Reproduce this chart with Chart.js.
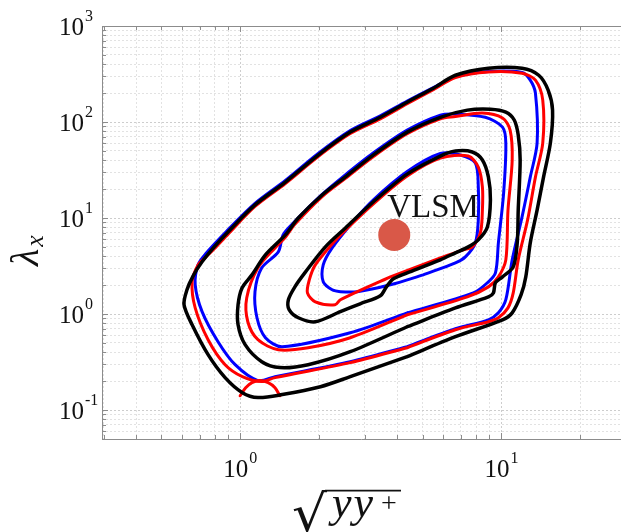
<!DOCTYPE html>
<html>
<head>
<meta charset="utf-8">
<script src="https://cdn.jsdelivr.net/npm/chart.js@4.4.1/dist/chart.umd.min.js"></script>
<style>
  html, body { margin: 0; padding: 0; background: #fff; overflow: hidden; }
  #wrap { width: 621px; height: 532px; }
  canvas { display: block; }
</style>
</head>
<body>
<div id="wrap"><canvas id="spectra" width="621" height="532"></canvas></div>
<script>
// contour levels of the premultiplied spectrum, [sqrt(y y+), lambda_x]
var outerBlack = [[4.36,0.360],[2.64,0.223],[2.03,0.175],[1.45,0.145],[1.17,0.135],[1.02,0.152],[0.876,0.218],[0.754,0.378],[0.655,0.774],[0.610,1.25],[0.626,1.79],[0.661,2.50],[0.715,3.50],[0.802,5.13],[0.899,7.17],[1.14,13.7],[1.49,23.7],[1.99,45.3],[2.64,78.5],[3.44,112],[4.36,161],[5.49,225],[6.67,307],[8.92,363],[12.0,363],[13.9,307],[15.1,215],[15.7,133],[15.4,60.3],[14.5,26.7],[13.7,12.1],[12.9,5.51],[12.4,2.44],[11.9,1.59],[11.0,1.03],[10.1,0.872],[6.67,0.581],[4.36,0.360]];
var outerRed = [[4.36,0.446],[2.64,0.312],[1.36,0.218],[1.21,0.198],[1.02,0.223],[0.876,0.297],[0.754,0.541],[0.673,1.16],[0.655,2.17],[0.690,3.25],[0.734,3.85],[0.802,4.89],[0.899,6.80],[1.14,13.2],[1.49,22.9],[1.99,43.7],[2.64,75.8],[3.44,108],[4.36,155],[5.49,217],[6.67,290],[8.92,332],[12.0,322],[13.5,273],[14.4,169],[14.4,60.3],[13.5,26.7],[12.6,9.56],[11.6,3.67],[11.1,1.66],[10.6,1.16],[9.74,0.915],[8.92,0.832],[6.67,0.687],[4.36,0.446]];
var outerBlue = [[4.36,0.457],[2.64,0.319],[1.36,0.223],[1.17,0.203],[0.957,0.297],[0.823,0.515],[0.715,1.06],[0.673,2.02],[0.690,3.25],[0.741,4.30],[0.884,7.20],[1.14,14.2],[1.49,24.6],[1.99,47.0],[2.64,81.4],[3.44,116],[4.36,165],[5.49,228],[6.67,295],[8.92,335],[12.0,328],[12.9,273],[13.5,200],[13.7,60.3],[12.9,26.7],[12.0,10.3],[11.0,3.67],[10.4,1.41],[9.74,1.03],[8.92,0.872],[6.67,0.703],[4.36,0.457]];
var middleBlack = [[4.36,0.738],[2.64,0.406],[1.82,0.297],[1.42,0.277],[1.21,0.319],[1.045,0.480],[0.982,0.774],[0.982,1.25],[1.018,1.88],[1.11,2.56],[1.25,4.13],[1.49,6.67],[1.67,10.0],[2.06,17.4],[2.53,26.9],[3.23,45.3],[4.36,78.5],[5.84,112],[7.41,133],[9.08,136],[10.4,127],[11.2,105],[11.6,73.1],[11.8,40.2],[11.6,12.1],[11.5,5.51],[11.1,3.10],[10.1,2.44],[9.49,2.12],[9.32,1.66],[8.92,1.51],[6.67,1.16],[4.36,0.738]];
var middleRed = [[4.36,0.983],[2.64,0.567],[1.82,0.446],[1.40,0.425],[1.17,0.541],[1.07,0.832],[1.06,1.48],[1.17,3.03],[1.36,4.89],[1.49,6.30],[1.62,8.60],[2.06,16.7],[2.53,25.9],[3.23,43.5],[4.36,75.5],[5.84,108],[6.67,114],[8.46,124],[10.1,110],[10.8,82.4],[11.0,40.2],[10.6,12.1],[10.4,3.67],[9.74,2.44],[8.92,1.92],[7.41,1.51],[4.36,0.983]];
var middleBlue = [[4.36,1.03],[2.64,0.639],[1.45,0.457],[1.25,0.567],[1.16,0.915],[1.14,1.71],[1.21,3.03],[1.40,4.44],[1.46,6.67],[1.60,8.90],[2.03,17.0],[2.48,27.0],[3.23,47.5],[4.36,82.4],[5.84,118],[6.67,121],[8.68,112],[10.1,88.5],[10.4,60.3],[10.2,18.2],[9.74,5.51],[9.49,2.69],[8.84,2.12],[7.81,1.66],[4.36,1.03]];
var innerBlack = [[4.36,2.69],[3.86,2.33],[3.63,1.92],[3.44,1.55],[2.88,1.28],[2.42,1.06],[1.94,0.832],[1.67,0.915],[1.54,1.11],[1.53,1.41],[1.62,1.92],[1.78,2.75],[2.12,5.01],[2.53,7.89],[3.23,14.7],[4.36,28.7],[5.84,44.2],[6.67,49.8],[7.74,48.7],[8.46,40.2],[8.92,26.7],[9.08,15.4],[8.84,8.08],[8.16,5.92],[7.47,5.01],[6.67,4.34],[5.84,3.67],[4.36,2.69]];
var innerRed = [[3.76,2.44],[2.42,1.41],[2.31,1.25],[1.94,1.34],[1.81,1.66],[1.84,2.27],[1.94,3.25],[2.31,5.80],[2.64,8.40],[3.23,14.0],[4.36,27.4],[5.84,42.1],[7.47,44.2],[8.16,34.0],[8.46,21.1],[8.46,12.1],[8.31,7.00],[7.74,5.01],[7.15,4.66],[5.84,3.85],[3.76,2.44]];
var innerBlue = [[5.02,2.56],[3.76,2.02],[2.81,1.71],[2.42,1.71],[2.25,1.79],[2.08,2.17],[2.08,3.25],[2.25,4.89],[2.69,9.00],[3.23,15.4],[4.36,30.5],[5.84,47.0],[6.97,45.3],[7.95,37.4],[8.16,21.1],[8.16,9.56],[7.95,5.51],[7.28,3.94],[6.67,3.41],[5.02,2.56]];
// small red island under the outer level
var redCap = [[1.00,0.141],[1.05,0.171],[1.11,0.193],[1.19,0.203],[1.28,0.193],[1.36,0.171],[1.42,0.141]];
// peak of the very-large-scale motions
var vlsmPeak = [[3.89, 6.67]];
var vlsmLabel = 'VLSM';

var xDecades = [0, 1];
var yDecades = [-1, 0, 1, 2, 3];

var SERIF = '"Liberation Serif", "DejaVu Serif", serif';

function contour(points, color, width, order) {
  return {
    data: points.map(function(p){ return {x: p[0], y: p[1]}; }),
    showLine: true,
    borderColor: color,
    borderWidth: width,
    borderJoinStyle: 'round',
    borderCapStyle: 'round',
    tension: 0.3,
    pointRadius: 0,
    fill: false,
    order: order
  };
}

function isNice(v) {
  var m = v / Math.pow(10, Math.floor(Math.log10(v) + 1e-9));
  return Math.abs(m - Math.round(m)) < 1e-6;
}
function isDecade(v) {
  var l = Math.log10(v);
  return Math.abs(l - Math.round(l)) < 1e-6;
}
function gridColor(c) {
  var v = c.tick ? c.tick.value : 0;
  if (!v || !isNice(v)) return 'rgba(0,0,0,0)';
  return isDecade(v) ? '#cdcdcd' : '#e2e2e2';
}

// "10" with a raised exponent
function powerLabel(ctx, exp, x, baseline, align) {
  ctx.font = '25px ' + SERIF;
  var wb = ctx.measureText('10').width;
  ctx.font = '16px ' + SERIF;
  var e = String(exp);
  var we = ctx.measureText(e).width;
  var left = align === 'center' ? x - (wb + 1 + we) / 2 : x;
  ctx.font = '25px ' + SERIF;
  ctx.fillText('10', left, baseline);
  ctx.font = '16px ' + SERIF;
  ctx.fillText(e, left + wb + 1, baseline - 14);
}

var framePlugin = {
  id: 'frame',
  beforeDraw: function(chart) {
    var ctx = chart.ctx;
    ctx.save();
    ctx.fillStyle = '#fff';
    ctx.fillRect(0, 0, chart.width, chart.height);
    ctx.restore();
  },
  beforeDatasetsDraw: function(chart) {
    var ctx = chart.ctx, a = chart.chartArea;
    var xs = chart.scales.x, ys = chart.scales.y;
    ctx.save();
    ctx.strokeStyle = '#8c8c8c';
    ctx.lineWidth = 1;
    ctx.beginPath();
    // box: left, top, bottom (right side runs off the canvas)
    ctx.moveTo(a.left + 0.5, a.bottom + 0.5);
    ctx.lineTo(a.left + 0.5, a.top + 0.5);
    ctx.lineTo(a.right, a.top + 0.5);
    ctx.moveTo(a.left, a.bottom + 0.5);
    ctx.lineTo(a.right, a.bottom + 0.5);
    // inward ticks
    xs.ticks.forEach(function(t) {
      if (!isNice(t.value)) return;
      var px = Math.round(xs.getPixelForValue(t.value)) + 0.5;
      var len = isDecade(t.value) ? 6 : 4;
      ctx.moveTo(px, a.top); ctx.lineTo(px, a.top + len);
      ctx.moveTo(px, a.bottom); ctx.lineTo(px, a.bottom - len);
    });
    ys.ticks.forEach(function(t) {
      if (!isNice(t.value)) return;
      var py = Math.round(ys.getPixelForValue(t.value)) + 0.5;
      var len = isDecade(t.value) ? 6 : 4;
      ctx.moveTo(a.left, py); ctx.lineTo(a.left + len, py);
    });
    ctx.stroke();
    ctx.restore();
  },
  afterDraw: function(chart) {
    var ctx = chart.ctx, a = chart.chartArea;
    var xs = chart.scales.x, ys = chart.scales.y;
    ctx.save();
    ctx.fillStyle = '#111';
    ctx.textBaseline = 'alphabetic';
    ctx.textAlign = 'left';

    xDecades.forEach(function(e) {
      powerLabel(ctx, e, xs.getPixelForValue(Math.pow(10, e)), a.bottom + 38, 'center');
    });
    yDecades.forEach(function(e) {
      powerLabel(ctx, e, 59, ys.getPixelForValue(Math.pow(10, e)) + 9, 'left');
    });

    // y title: lambda_x
    ctx.save();
    ctx.translate(38, 266);
    ctx.rotate(-Math.PI / 2);
    ctx.font = 'italic 40px ' + SERIF;
    ctx.fillText('λ', 0, 0);
    var lw = ctx.measureText('λ').width;
    ctx.font = 'italic 26px ' + SERIF;
    ctx.fillText('x', lw + 2, 5);
    ctx.restore();

    // x title: sqrt(y y+), the radical stretched to cover its argument
    ctx.save();
    ctx.translate(292, 531);
    ctx.scale(1.25, 1.15);
    ctx.font = '44px "DejaVu Serif", serif';
    var rm = ctx.measureText('√');
    ctx.fillText('√', 0, 0);
    ctx.restore();
    var rRight = 292 + rm.width * 1.25;
    var rTop = 531 - rm.actualBoundingBoxAscent * 1.15;
    ctx.strokeStyle = '#111';
    ctx.lineWidth = 1.6;
    ctx.beginPath();
    ctx.moveTo(rRight - 2, rTop + 1);
    ctx.lineTo(401, rTop + 1);
    ctx.stroke();
    ctx.font = 'italic 44px ' + SERIF;
    ctx.letterSpacing = '2px';
    ctx.fillText('yy', 332, 517);
    ctx.letterSpacing = '0px';
    ctx.font = '28px ' + SERIF;
    ctx.fillText('+', 381, 512);

    // label above the peak marker
    var pk = chart.getDatasetMeta(0).data[0];
    ctx.font = '33px ' + SERIF;
    ctx.fillStyle = '#111';
    ctx.fillText(vlsmLabel, pk.x - 7, pk.y - 18);
    ctx.restore();
  }
};

var datasets = [
  {
    data: vlsmPeak.map(function(p){ return {x: p[0], y: p[1]}; }),
    pointRadius: 16,
    pointBackgroundColor: '#d95848',
    pointBorderWidth: 0,
    showLine: false,
    order: 0
  },
  contour(outerBlack, '#000000', 3.5, 1),
  contour(middleBlack, '#000000', 3.5, 1),
  contour(innerBlack, '#000000', 3.5, 1),
  contour(outerRed, '#ff0000', 3, 2),
  contour(middleRed, '#ff0000', 3, 2),
  contour(innerRed, '#ff0000', 3, 2),
  contour(redCap, '#ff0000', 3, 2),
  contour(outerBlue, '#0000ff', 3, 3),
  contour(middleBlue, '#0000ff', 3, 3),
  contour(innerBlue, '#0000ff', 3, 3)
];

var ctx = document.getElementById('spectra').getContext('2d');
var chart = new Chart(ctx, {
  type: 'scatter',
  data: { datasets: datasets },
  options: {
    responsive: false,
    animation: false,
    devicePixelRatio: 1,
    layout: { autoPadding: false, padding: { left: 102, top: 26, right: 0, bottom: 93 } },
    plugins: { legend: { display: false }, tooltip: { enabled: false } },
    scales: {
      x: {
        type: 'logarithmic',
        min: 0.296,
        max: 28.7,
        ticks: { display: false },
        grid: { color: gridColor, drawTicks: false, lineWidth: 1 },
        border: { display: false, dash: [2, 2] }
      },
      y: {
        type: 'logarithmic',
        min: 0.05,
        max: 1000,
        ticks: { display: false },
        grid: { color: gridColor, drawTicks: false, lineWidth: 1 },
        border: { display: false, dash: [2, 2] }
      }
    }
  },
  plugins: [framePlugin]
});
</script>
</body>
</html>
